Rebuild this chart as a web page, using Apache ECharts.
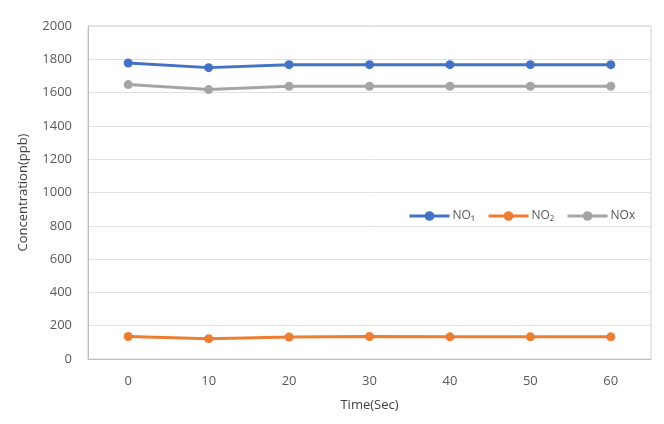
<!DOCTYPE html>
<html><head><meta charset="utf-8">
<script src="https://cdn.jsdelivr.net/npm/echarts@6/dist/echarts.min.js"></script>
<style>html,body{margin:0;padding:0;background:#fff}#c{width:664px;height:424px}</style>
</head><body><div id="c"></div>
<script>
const categories = ['0','10','20','30','40','50','60'];
const no1 = [1778,1750,1768,1768,1768,1768,1768];
const no2 = [135,122,132,135,133,133,133];
const nox = [1648,1618,1638,1638,1638,1638,1638];
const seriesNames = ['NO\u2081','NO\u2082','NOx'];
const colors = ['#4472C4','#ED7D31','#A5A5A5'];
const font = 'Open Sans';
const chart = echarts.init(document.getElementById('c'));
const mk = (name, data, color) => ({
  name, type:'line', data, color, symbol:'circle', symbolSize:9,
  lineStyle:{width:3, color}, itemStyle:{color}
});
chart.setOption({
  animation:false,
  grid:{left:88,right:13,top:26,bottom:65,show:true,borderColor:'#d0d0d0',borderWidth:1},
  legend:{left:403,top:205,itemWidth:40,itemHeight:12,itemGap:12,
    lineStyle:{width:3},
    textStyle:{color:'#595959',fontFamily:font,fontSize:12,padding:[0,0,0,-2]}, data:seriesNames},
  xAxis:{type:'category',data:categories,boundaryGap:true,
    name:'Time(Sec)',nameLocation:'middle',nameGap:40,
    nameTextStyle:{color:'#404040',fontFamily:font,fontSize:13},
    axisLine:{lineStyle:{color:'#bfbfbf'}},axisTick:{show:false},
    axisLabel:{color:'#595959',fontFamily:font,fontSize:13,margin:16}},
  yAxis:{type:'value',min:0,max:2000,interval:200,
    name:'Concentration(ppb)',nameLocation:'middle',nameGap:58,
    nameTextStyle:{color:'#404040',fontFamily:font,fontSize:13},
    axisLine:{show:true,lineStyle:{color:'#bfbfbf'}},axisTick:{show:false},
    splitLine:{lineStyle:{color:'#e0e0e0'}},
    axisLabel:{color:'#595959',fontFamily:font,fontSize:13,margin:16,formatter:v=>String(v)}},
  series:[mk(seriesNames[0],no1,colors[0]),mk(seriesNames[1],no2,colors[1]),mk(seriesNames[2],nox,colors[2])]
});
</script></body></html>
